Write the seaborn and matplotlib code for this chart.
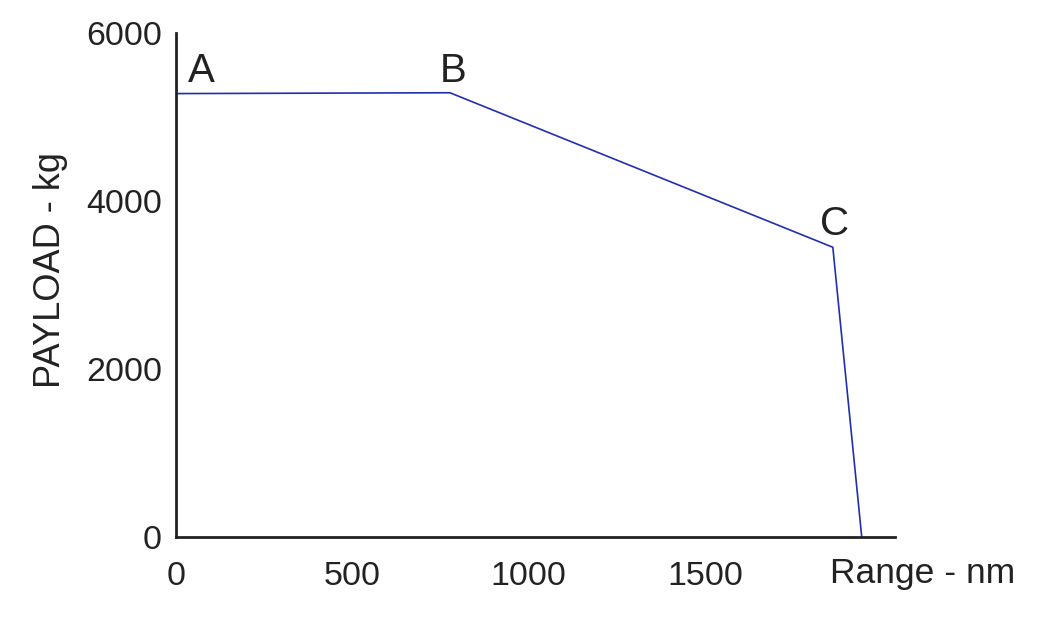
import matplotlib
matplotlib.use("Agg")
import pandas as pd
import seaborn as sns
from matplotlib import pyplot as plt

# payload-range points
range_nm = [0, 777, 1863, 1945]
payload_kg = [5280, 5290, 3450, 0]
point_names = ["A", "B", "C", ""]

x_ticks = [0, 500, 1000, 1500]
y_ticks = [0, 2000, 4000, 6000]

sns.set_theme(style="white")
plt.rcParams["font.family"] = ["Liberation Sans", "DejaVu Sans"]

df = pd.DataFrame({"range": range_nm, "payload": payload_kg})

fig = plt.figure(figsize=(10.5, 6.37), dpi=100)
ax = fig.add_axes([0.1676, 0.157, 0.685, 0.791])

sns.lineplot(data=df, x="range", y="payload", sort=False, color="#1f2fb0",
             linewidth=1.2, ax=ax)

# point letters (offsets in points, alignment per letter)
lbl_pos = {"A": (8.5, 8.5, "left"), "B": (2, 7.5, "center"), "C": (1.5, 8.5, "center")}
for xv, yv, nm in zip(range_nm, payload_kg, point_names):
    if nm == "":
        continue
    dx, dy, ha = lbl_pos[nm]
    ax.annotate(nm, (xv, yv), xytext=(dx, dy), textcoords="offset points",
                fontsize=29, color="#222222", ha=ha, va="baseline")

ax.set_xlim(0, 2040)
ax.set_ylim(0, 6000)
ax.set_xticks(x_ticks)
ax.set_yticks(y_ticks)
ax.tick_params(axis="x", length=0, pad=17, labelsize=24.5, labelcolor="#222222")
ax.tick_params(axis="y", length=0, pad=10, labelsize=24.5, labelcolor="#222222")

for s in ["top", "right"]:
    ax.spines[s].set_visible(False)
for s in ["left", "bottom"]:
    ax.spines[s].set_color("#222222")
    ax.spines[s].set_linewidth(2.0)

ax.set_xlabel("")
ax.set_ylabel("PAYLOAD - kg", fontsize=26, color="#222222")
ax.yaxis.set_label_coords(-0.15, 0.53)
fig.text(0.79, 0.1, "Range - nm", fontsize=25.5, color="#222222",
         ha="left", va="center")

fig.savefig("out.png", dpi=100, facecolor="white")
